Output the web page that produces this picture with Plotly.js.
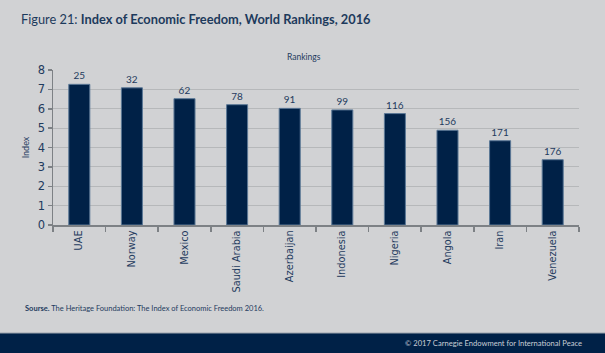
<!DOCTYPE html>
<html><head><meta charset="utf-8">
<script src="https://cdn.plot.ly/plotly-3.0.1.min.js"></script>
<style>html,body{margin:0;padding:0;background:#d1d2d4;}#chart{width:605px;height:353px;}</style>
</head><body><div id="chart"></div>
<script>
const countries = ["UAE","Norway","Mexico","Saudi Arabia","Azerbaijan","Indonesia","Nigeria","Angola","Iran","Venezuela"];
const indexValues = [7.26, 7.08, 6.52, 6.21, 6.02, 5.94, 5.75, 4.89, 4.35, 3.37];
const rankings = ["25","32","62","78","91","99","116","156","171","176"];
const yTicks = [0,1,2,3,4,5,6,7,8];

const W = 605, H = 353;
const m = {l:53, r:26, t:70, b:128};
const ph = H - m.t - m.b;
const py = px => (H - m.b - px) / ph; // pixel y -> paper y
const pw = W - m.l - m.r;
const pxx = px => (px - m.l) / pw;

const navy = "#002147";
const txt = "#1f3b5e";

const trace = {
  type: "bar",
  x: countries,
  y: indexValues,
  text: rankings,
  textposition: "outside",
  cliponaxis: false,
  textfont: {family: "Lato, sans-serif", size: 10, color: txt},
  marker: {color: navy, line: {color: "#5b7896", width: 1}},
  width: 0.4,
  hoverinfo: "none"
};

const layout = {
  width: W, height: H,
  margin: m,
  paper_bgcolor: "#d1d2d4",
  plot_bgcolor: "#d1d2d4",
  showlegend: false,
  xaxis: {
    type: "category",
    tickangle: -90,
    tickfont: {family: "DejaVu Sans, sans-serif", size: 9.8, color: txt},
    showline: true, linecolor: "#7d8185", linewidth: 1.5,
    ticks: "outside", tickson: "boundaries", ticklen: 5, tickcolor: "#7d8185", tickwidth: 1.5,
    showgrid: false, zeroline: false,
    range: [-0.5, 9.5]
  },
  yaxis: {
    range: [0, 8],
    tickvals: yTicks,
    tickfont: {family: "DejaVu Sans, sans-serif", size: 11.5, color: txt},
    showline: true, linecolor: "#7d8185", linewidth: 1.5,
    ticks: "outside", ticklen: 4, tickcolor: "#7d8185", tickwidth: 1.5,
    showgrid: true, gridcolor: "#b6b8ba", gridwidth: 1,
    zeroline: false,
    title: {text: "Index", font: {family: "Lato, sans-serif", size: 9, color: txt}, standoff: 6}
  },
  shapes: [
    {type: "rect", xref: "paper", yref: "paper", x0: -1, x1: 2, y0: py(333), y1: py(354), fillcolor: navy, line: {width: 0}, layer: "below"},
    {type: "line", xref: "paper", yref: "paper", x0: -1, x1: 2, y0: py(333), y1: py(333), line: {color: "#9aa3ad", width: 1}}
  ],
  annotations: [
    {xref: "paper", yref: "paper", x: pxx(19), y: py(19), xanchor: "left", yanchor: "middle", showarrow: false,
     text: "Figure 21: <b>Index of Economic Freedom, World Rankings, 2016</b>",
     font: {family: "Lato, sans-serif", size: 12.8, color: "#1d3a5c"}},
    {xref: "paper", yref: "paper", x: pxx(304), y: py(57), xanchor: "center", yanchor: "middle", showarrow: false,
     text: "Rankings", font: {family: "Lato, sans-serif", size: 8.5, color: txt}},
    {xref: "paper", yref: "paper", x: pxx(23), y: py(308), xanchor: "left", yanchor: "middle", showarrow: false,
     text: "<b>Sourse.</b> The Heritage Foundation: The Index of Economic Freedom 2016.",
     font: {family: "Lato, sans-serif", size: 7.5, color: txt}},
    {xref: "paper", yref: "paper", x: pxx(584), y: py(343), xanchor: "right", yanchor: "middle", showarrow: false,
     text: "© 2017 Carnegie Endowment for International Peace",
     font: {family: "Lato, sans-serif", size: 7.6, color: "#c9ced6"}}
  ]
};

Plotly.newPlot("chart", [trace], layout, {displayModeBar: false, staticPlot: true});
</script></body></html>
